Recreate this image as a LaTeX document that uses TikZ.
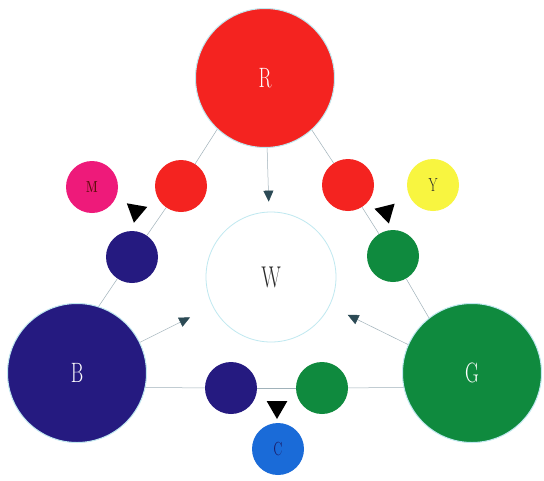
\documentclass[tikz,border=0pt]{standalone}
\usepackage{graphicx}
\usetikzlibrary{arrows.meta, shapes.geometric}
\definecolor{addRed}{HTML}{F42320}
\definecolor{addBlue}{HTML}{251A80}
\definecolor{addGreen}{HTML}{0F8A3E}
\definecolor{mixMagenta}{HTML}{EE1A7A}
\definecolor{mixYellow}{HTML}{F8F540}
\definecolor{mixCyan}{HTML}{1A6BD8}
\definecolor{haloCyan}{HTML}{BFE8F0}
\definecolor{lineGray}{HTML}{A0B2BA}
\definecolor{tipSlate}{HTML}{2C4A55}
\definecolor{textDark}{HTML}{2A2A2A}
\newcommand{\narrowlbl}[1]{\scalebox{0.68}[1]{#1}}
\tikzset{
  discBig/.style={circle, minimum size=139pt, inner sep=0pt, draw=haloCyan,
                  line width=1pt, text=white, font=\fontsize{28}{28}\selectfont},
  discSmall/.style={circle, minimum size=52pt, inner sep=0pt,
                    font=\fontsize{19}{19}\selectfont},
  linkL/.style={lineGray, line width=0.5pt},
  arrowW/.style={-{Triangle[length=11pt, width=10pt, color=tipSlate]},
                 lineGray, line width=0.5pt},
  mixTip/.style={regular polygon, regular polygon sides=3, fill=black,
                 minimum size=24pt, inner sep=0pt},
}
\begin{document}
\begin{tikzpicture}[x=1pt, y=-1pt]
  \useasboundingbox[fill=white] (0,0) rectangle (544,480);
  % primaries and white
  \node[discBig, fill=addRed] (R) at (265,78) {\narrowlbl{R}};
  \node[discBig, fill=addBlue] (B) at (77,373) {\narrowlbl{B}};
  \node[discBig, fill=addGreen] (G) at (472,373) {\narrowlbl{G}};
  \node[circle, minimum size=130pt, inner sep=0pt, draw=haloCyan, line width=0.8pt,
        text=textDark, font=\fontsize{30}{30}\selectfont] (W) at (271,277) {\narrowlbl{W}};
  % pairs and mixes
  \node[discSmall, fill=addRed] (rl) at (181,186) {};
  \node[discSmall, fill=addBlue] (bl) at (132,257) {};
  \node[discSmall, fill=mixMagenta, text=addRed!40!black,
        font=\bfseries\fontsize{16}{16}\selectfont] (M) at (92,187) {\narrowlbl{M}};
  \node[discSmall, fill=addRed] (rr) at (348,185) {};
  \node[discSmall, fill=addGreen] (gr) at (393,256) {};
  \node[discSmall, fill=mixYellow, text=textDark] (Y) at (433,185) {\narrowlbl{Y}};
  \node[discSmall, fill=addBlue] (bb) at (231,388) {};
  \node[discSmall, fill=addGreen] (bg) at (322,388) {};
  \node[discSmall, fill=mixCyan, text=addBlue!70!black] (C) at (278,449) {\narrowlbl{C}};
  \node[mixTip, regular polygon rotate=170] (tm) at (136,211) {};
  \node[mixTip, regular polygon rotate=194] (ty) at (386,212) {};
  \node[mixTip, regular polygon rotate=180] (tc) at (277,407) {};
  % links
  \draw[linkL] (R.227) -- (rl); \draw[linkL] (rl) -- (bl); \draw[linkL] (bl) -- (B.72);
  \draw[linkL] (R.312) -- (rr); \draw[linkL] (rr) -- (gr); \draw[linkL] (gr) -- (G.128);
  \draw[linkL] (B.-12) -- (bb); \draw[linkL] (bb) -- (bg); \draw[linkL] (bg) -- (G.192);
  \draw[arrowW, shorten >=10pt] (R) -- (W);
  \draw[arrowW, shorten >=25pt] (B.26) -- (W);
  \draw[arrowW, shorten >=20pt] (G.156) -- (W);
\end{tikzpicture}
\end{document}
